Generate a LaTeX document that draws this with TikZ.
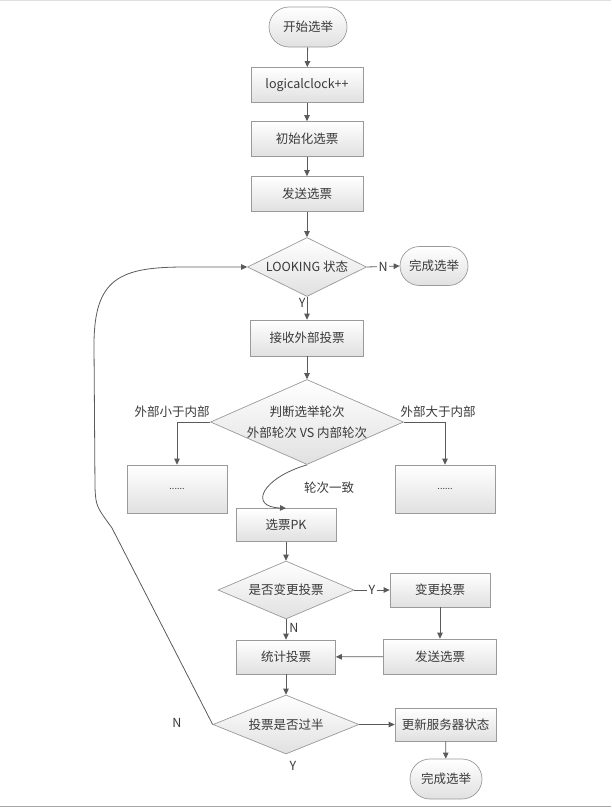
\documentclass[tikz,border=0pt]{standalone}
\usepackage{fontspec}
\setmainfont{Noto Sans CJK SC}
\usetikzlibrary{shapes.geometric,shapes.misc,arrows.meta}
\definecolor{txtc}{HTML}{3A3A3A}
\definecolor{linec}{HTML}{5A5A5A}
\definecolor{bordc}{HTML}{9A9A9A}
\tikzset{
  base/.style={draw=bordc, line width=0.7pt, top color=white, bottom color=black!12,
    text=txtc, font=\fontsize{12.5}{15}\selectfont, inner sep=0pt},
  pbox/.style={base, rectangle},
  term/.style={base, rounded rectangle},
  dia/.style={base, diamond},
  lbl/.style={text=txtc, font=\fontsize{12.5}{15}\selectfont, inner sep=1pt},
  arr/.style={draw=linec, line width=0.8pt, -{Triangle[length=6pt,width=5.5pt]}},
}
\begin{document}
\begin{tikzpicture}[x=1pt,y=-1pt]
\useasboundingbox (0,0) rectangle (611,811);
\draw[black!12, line width=1pt] (0,0.5) -- (611,0.5);
\draw[black!35, line width=1.5pt] (0,806.5) -- (611,806.5);

\node[term, minimum width=78pt, minimum height=40pt] (start) at (308,27) {开始选举};
\node[pbox, minimum width=112pt, minimum height=35pt] (logic) at (307,85) {logicalclock++};
\node[pbox, minimum width=112pt, minimum height=35pt] (init) at (307,139) {初始化选票};
\node[pbox, minimum width=112pt, minimum height=35pt] (send) at (307,194) {发送选票};
\node[dia, minimum width=119pt, minimum height=59pt, label={[lbl]center:LOOKING 状态}] (look) at (307,267) {};
\node[term, minimum width=68pt, minimum height=39pt] (done1) at (434,266) {完成选举};
\node[pbox, minimum width=113pt, minimum height=36pt] (recv) at (307,338) {接收外部投票};
\node[dia, minimum width=193pt, minimum height=85pt,
  label={[lbl, align=center, font=\fontsize{12.5}{21}\selectfont]center:判断选举轮次\\外部轮次 VS 内部轮次}] (judge) at (307,422) {};
\node[pbox, minimum width=100pt, minimum height=48pt, font=\fontsize{9}{10}\selectfont] (lbox) at (177,489) {......};
\node[pbox, minimum width=100pt, minimum height=48pt, font=\fontsize{9}{10}\selectfont] (rbox) at (445,489) {......};
\node[lbl] (same) at (329,488) {轮次一致};
\node[pbox, minimum width=100pt, minimum height=33pt] (pk) at (286,525) {选票PK};
\node[dia, minimum width=136pt, minimum height=58pt, label={[lbl]center:是否变更投票}] (change) at (286,590) {};
\node[pbox, minimum width=100pt, minimum height=34pt] (chvote) at (440,590) {变更投票};
\node[pbox, minimum width=113pt, minimum height=35pt] (send2) at (440,656.5) {发送选票};
\node[pbox, minimum width=99pt, minimum height=34pt] (count) at (286,657) {统计投票};
\node[dia, minimum width=146pt, minimum height=59pt, label={[lbl]center:投票是否过半}] (half) at (286,724.5) {};
\node[pbox, minimum width=101pt, minimum height=33pt] (update) at (445.5,724.5) {更新服务器状态};
\node[term, minimum width=72pt, minimum height=40pt] (done2) at (446,779) {完成选举};
\node[lbl] (nloop) at (177,723) {N};
\node[lbl] (yhalf) at (293,766) {Y};

\draw[arr] (start) -- (logic);
\draw[arr] (logic) -- (init);
\draw[arr] (init) -- (send);
\draw[arr] (send) -- (look);
\draw[arr] (look.east) -- node[lbl, fill=white, inner sep=1.5pt] {N} (done1.west);
\draw[arr] (look.south) -- node[lbl, pos=0.25, left=0pt] {Y} (recv.north);
\draw[arr] (recv) -- (judge);
\draw[arr] (judge.west) -| node[lbl, pos=0.5, above=3pt, xshift=-5pt] {外部小于内部} (lbox.north);
\draw[arr] (judge.east) -| node[lbl, pos=0.5, above=3pt, xshift=-7pt] {外部大于内部} (rbox.north);
\draw[arr] (judge.south) .. controls (262,478) and (248,507) .. (pk.north);
\draw[arr] (pk) -- (change);
\draw[arr] (change.east) -- node[lbl, fill=white, inner sep=1.5pt, pos=0.5] {Y} (chvote.west);
\draw[arr] (chvote) -- (send2);
\draw[arr] (send2) -- (count);
\draw[arr] (change.south) -- node[lbl, pos=0.4, right=2pt] {N} (count.north);
\draw[arr] (count) -- (half);
\draw[arr] (half.east) -- (update.west);
\draw[arr] (update) -- (done2);
\draw[arr] (half.west) -- (112,528) .. controls (96,506) .. (95,488) -- (94,345)
  .. controls (94,278) and (120,267) .. (185,267) -- (look.west);
\end{tikzpicture}
\end{document}
